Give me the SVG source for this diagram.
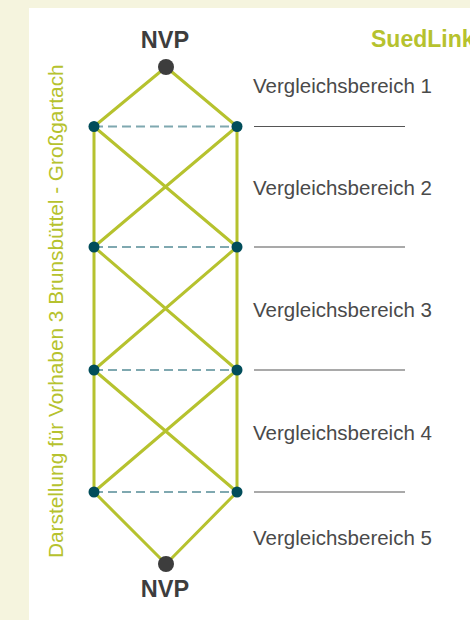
<svg xmlns="http://www.w3.org/2000/svg" width="470" height="620" viewBox="0 0 470 620">
<defs>
<style>
.edge{stroke:#b6c22e;stroke-width:3;fill:none;stroke-linecap:round}
.dash{stroke:#7fa8b0;stroke-width:2;stroke-dasharray:9 5;fill:none}
.sep{stroke:#555;stroke-width:1.2;fill:none}
.pt{fill:#014d5a}
.nvp{fill:#3d3d3d}
.lbl{font-family:"Liberation Sans",Arial,sans-serif;font-size:20.5px;fill:#4a4a4a}
.nvpt{font-family:"Liberation Sans",Arial,sans-serif;font-size:23.5px;font-weight:bold;fill:#3d3d3d;text-anchor:middle}
.grn{font-family:"Liberation Sans",Arial,sans-serif;fill:#b6c22e}
</style>
</defs>
<rect x="0" y="0" width="470" height="620" fill="#f5f4de"/>
<rect x="29" y="8" width="441" height="612" fill="#ffffff"/>
<text class="grn" x="371" y="47" font-size="23" font-weight="bold">SuedLink</text>
<text class="grn" font-size="20.8" transform="translate(63,558) rotate(-90)">Darstellung für Vorhaben 3 Brunsbüttel - Großgartach</text>
<g id="connectors">
<path class="edge" d="M166,67 L94,126.5 M166,67 L237,126.5"/>
<path class="edge" d="M94,126.5 L94,492 M237,126.5 L237,492"/>
<path class="edge" d="M94,126.5 L237,247 M237,126.5 L94,247"/>
<path class="edge" d="M94,247 L237,370 M237,247 L94,370"/>
<path class="edge" d="M94,370 L237,492 M237,370 L94,492"/>
<path class="edge" d="M94,492 L166,564 M237,492 L166,564"/>
<path class="dash" d="M94,126.5 H237 M94,247 H237 M94,370 H237 M94,492 H237"/>
</g>
<g id="separators">
<path class="sep" d="M254,126.5 H405 M254,247 H405 M254,370 H405 M254,492 H405"/>
</g>
<g id="nvp-top"><circle class="nvp" cx="166" cy="67" r="8"/><text class="nvpt" x="165" y="48">NVP</text></g>
<g id="nvp-bottom"><circle class="nvp" cx="166" cy="564" r="8"/><text class="nvpt" x="165" y="597">NVP</text></g>
<g id="l1"><circle class="pt" cx="94" cy="126.5" r="5.5"/></g>
<g id="r1"><circle class="pt" cx="237" cy="126.5" r="5.5"/></g>
<g id="l2"><circle class="pt" cx="94" cy="247" r="5.5"/></g>
<g id="r2"><circle class="pt" cx="237" cy="247" r="5.5"/></g>
<g id="l3"><circle class="pt" cx="94" cy="370" r="5.5"/></g>
<g id="r3"><circle class="pt" cx="237" cy="370" r="5.5"/></g>
<g id="l4"><circle class="pt" cx="94" cy="492" r="5.5"/></g>
<g id="r4"><circle class="pt" cx="237" cy="492" r="5.5"/></g>
<g id="labels">
<text class="lbl" x="253" y="92.5">Vergleichsbereich 1</text>
<text class="lbl" x="253" y="195">Vergleichsbereich 2</text>
<text class="lbl" x="253" y="317">Vergleichsbereich 3</text>
<text class="lbl" x="253" y="440">Vergleichsbereich 4</text>
<text class="lbl" x="253" y="545">Vergleichsbereich 5</text>
</g>
</svg>
